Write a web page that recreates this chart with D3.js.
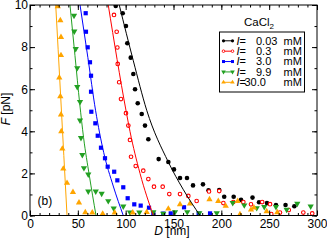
<!DOCTYPE html>
<html>
<head>
<meta charset="utf-8">
<script src="https://cdn.jsdelivr.net/npm/d3@7"></script>
<style>
  body { margin: 0; background: #fff; }
  svg { display: block; font-family: "Liberation Sans", Arial, sans-serif; }
</style>
</head>
<body>
<svg id="chart" width="327" height="242"></svg>
<script>
// axis ticks
var xTicks = [0, 50, 100, 150, 200, 250, 300];
var xMinor = d3.range(0, 301, 10);
var yTicks = [0, 2, 4, 6, 8, 10];
var yMinor = d3.range(0, 11, 1);

// I = 0.03 mM (black)
var blackD = [89.6, 96.9, 100.3, 101.7, 105.3, 108.0, 109.8, 112.6, 116.8, 120.2, 123.7, 134.5, 144.6, 150.5, 156.8, 164.1, 170.4, 180.8, 186.6, 197.8, 203.0, 212.9, 220.6, 232.6, 239.4, 247.7, 257.1, 267.1, 276.3];
var blackF = [9.95, 9.61, 9.00, 8.18, 7.50, 6.72, 6.00, 5.33, 4.82, 4.27, 3.62, 2.68, 2.54, 2.19, 1.78, 1.78, 1.43, 1.48, 1.20, 1.21, 0.89, 0.89, 0.74, 0.85, 0.63, 0.59, 0.50, 0.50, 0.44];
var blackFitD = [93.3, 108, 122, 144.6, 160, 177.7];
var blackFitF = [10, 7.35, 5, 2.54, 1.25, 0];

// I = 0.3 mM (red)
var redD = [87.8, 90.6, 91.3, 91.7, 93.2, 95.1, 100.3, 102.8, 104.5, 105.6, 110.5, 118.4, 123.7, 129.6, 138.7, 145.6, 156.8, 165.5, 174.2, 187.1, 197.8, 202.1, 212.5, 223.0, 231.0, 242.7, 250.9, 252.2, 261.3, 270.5, 285.7, 295.0];
var redF = [9.53, 8.73, 7.98, 7.20, 6.33, 5.53, 4.86, 4.27, 3.59, 2.79, 2.35, 2.13, 1.73, 1.37, 1.37, 1.02, 1.02, 0.93, 0.69, 1.14, 1.16, 0.59, 0.64, 0.64, 0.53, 0.64, 0.54, 0.07, 0.14, 0.26, 0.14, 0.10];
var redFitD = [81.8, 100.3, 104.5, 115, 128.9];
var redFitF = [10, 5, 4, 2, 0];

// I = 3.0 mM (blue)
var blueD = [58.2, 58.5, 60.3, 62.7, 63.8, 63.8, 64.1, 68.3, 70.8, 74.2, 78.4, 81.2, 88.0, 91.3, 97.5, 102.1, 109.0, 115.7, 124.4, 128.9, 139.3, 147.1, 161.0, 176.3, 188.2];
var blueF = [9.61, 8.73, 7.99, 7.28, 6.64, 5.88, 4.93, 4.38, 3.79, 3.22, 2.72, 2.32, 2.08, 1.67, 1.34, 0.82, 0.53, 0.47, 0.37, 0.10, 0.09, 0.10, 0.39, 0.09, 0.10];
var blueFitD = [52.3, 60.5, 68.5, 77, 87, 97.5];
var blueFitF = [10, 7.5, 5, 3, 1.4, 0];

// I = 9.9 mM (green)
var greenD = [46.0, 46.3, 47.8, 49.4, 49.4, 52.3, 52.3, 53.3, 54.7, 56.4, 60.9, 60.9, 68.7, 74.9, 81.8, 87.5, 97.5, 104.5, 114.3, 128.9, 139.3, 151.6, 164.4, 177.0, 195.2, 211.9, 224.0, 237.0, 244.9, 257.1, 268.3, 279.4, 293.4];
var greenF = [9.48, 8.73, 7.90, 6.99, 6.09, 5.38, 4.50, 3.67, 2.86, 2.24, 1.94, 1.13, 1.13, 1.02, 0.67, 0.32, 0.42, 0.13, 0.13, 0.15, 0.07, 0.15, 0.15, 0.10, 0.10, 0.58, 0.47, 0.34, 0.39, 0.39, 0.26, 0.55, 0.42];
var greenFitD = [41.8, 47, 52, 56, 62, 69];
var greenFitF = [10, 7.6, 5.3, 3.7, 1.9, 0];

// I = 30.0 mM (orange)
var orangeD = [29.0, 31.7, 32.4, 32.4, 30.6, 31.7, 32.4, 32.7, 33.8, 34.8, 38.7, 44.9, 51.2, 57.8, 65.1, 76.0, 88.5, 107.4, 122.0, 144.6, 156.8, 167.2, 187.6, 196.8, 204.6, 217.1, 219.5, 231.0, 234.1, 247.4, 258.5];
var orangeF = [9.95, 9.29, 8.49, 7.63, 6.57, 5.68, 4.81, 4.01, 3.19, 2.24, 1.56, 1.13, 0.63, 0.17, 0.15, 0.10, 0.15, 0.15, 0.18, 0.34, 0.55, 0.58, 0.78, 0.70, 0.47, 0.70, 0.07, 0.29, 0.39, 0.21, 0.17];
var orangeFitD = [26.9, 29.4, 32, 38.7];
var orangeFitF = [10, 7.9, 5.7, 0];

var legendNames = ["0.03", "0.3", "3.0", "9.9", "30.0"];

var series = [
  { name: legendNames[0], d: blackD, f: blackF, fd: blackFitD, ff: blackFitF, color: "#000000", sym: "dot" },
  { name: legendNames[1], d: redD, f: redF, fd: redFitD, ff: redFitF, color: "#ff0000", sym: "ring" },
  { name: legendNames[2], d: blueD, f: blueF, fd: blueFitD, ff: blueFitF, color: "#0000ff", sym: "square" },
  { name: legendNames[3], d: greenD, f: greenF, fd: greenFitD, ff: greenFitF, color: "#22a022", sym: "down" },
  { name: legendNames[4], d: orangeD, f: orangeF, fd: orangeFitD, ff: orangeFitF, color: "#ffa500", sym: "up" }
];

function drawChart() {
  var svg = d3.select("#chart");
  var plotLeft = 30, plotRight = 317, plotTop = 5, plotBottom = 215.5;

  var x = d3.scaleLinear().domain([0, 300]).range([plotLeft, plotRight]);
  var y = d3.scaleLinear().domain([0, 10]).range([plotBottom, plotTop]);

  svg.append("defs").append("clipPath").attr("id", "plotclip")
    .append("rect")
    .attr("x", plotLeft).attr("y", plotTop)
    .attr("width", plotRight - plotLeft).attr("height", plotBottom - plotTop);

  var plot = svg.append("g").attr("clip-path", "url(#plotclip)");

  function drawMarker(g, sym, color, px, py) {
    if (sym === "dot") {
      g.append("circle").attr("cx", px).attr("cy", py).attr("r", 2.3).attr("fill", color);
    } else if (sym === "ring") {
      g.append("circle").attr("cx", px).attr("cy", py).attr("r", 1.8)
        .attr("fill", "#fff").attr("stroke", color).attr("stroke-width", 1.1);
    } else if (sym === "square") {
      g.append("rect").attr("x", px - 2.1).attr("y", py - 2.1).attr("width", 4.2).attr("height", 4.2).attr("fill", color);
    } else {
      var rot = sym === "down" ? 180 : 0;
      g.append("path")
        .attr("d", d3.symbol().type(d3.symbolTriangle).size(17)())
        .attr("transform", "translate(" + px + "," + (py + (sym === "down" ? -0.4 : 0.4)) + ") rotate(" + rot + ")")
        .attr("fill", color);
    }
  }

  var line = d3.line()
    .x(function (p) { return x(p[0]); })
    .y(function (p) { return y(p[1]); })
    .curve(d3.curveMonotoneX);

  // markers first, fits on top
  series.forEach(function (s) {
    var g = plot.append("g");
    s.d.forEach(function (dv, i) {
      drawMarker(g, s.sym, s.color, x(dv), y(s.f[i]));
    });
  });

  series.forEach(function (s) {
    plot.append("path")
      .datum(d3.zip(s.fd, s.ff))
      .attr("d", line)
      .attr("fill", "none")
      .attr("stroke", s.color)
      .attr("stroke-width", 1);
  });

  // axes, ticks pointing inward
  function styleAxis(g) {
    g.select(".domain").remove();
    g.selectAll("line").attr("stroke", "#000").attr("stroke-width", 1);
    g.selectAll("text").attr("font-size", 12).attr("fill", "#000")
      .attr("font-family", "Liberation Sans, Arial, sans-serif");
  }

  svg.append("g").attr("transform", "translate(0," + plotBottom + ")")
    .call(d3.axisBottom(x).tickValues(xMinor).tickSize(-2.5).tickFormat(""))
    .call(styleAxis);
  svg.append("g").attr("transform", "translate(0," + plotBottom + ")")
    .call(d3.axisBottom(x).tickValues(xTicks).tickSize(-5).tickPadding(3.5).tickFormat(d3.format("d")))
    .call(styleAxis);
  svg.append("g").attr("transform", "translate(0," + plotTop + ")")
    .call(d3.axisTop(x).tickValues(xMinor).tickSize(-2.5).tickFormat(""))
    .call(styleAxis);
  svg.append("g").attr("transform", "translate(0," + plotTop + ")")
    .call(d3.axisTop(x).tickValues(xTicks).tickSize(-5).tickFormat(""))
    .call(styleAxis);

  svg.append("g").attr("transform", "translate(" + plotLeft + ",0)")
    .call(d3.axisLeft(y).tickValues(yMinor).tickSize(-2.5).tickFormat(""))
    .call(styleAxis);
  svg.append("g").attr("transform", "translate(" + plotLeft + ",0)")
    .call(d3.axisLeft(y).tickValues(yTicks).tickSize(-5).tickPadding(2).tickFormat(d3.format("d")))
    .call(styleAxis);
  svg.append("g").attr("transform", "translate(" + plotRight + ",0)")
    .call(d3.axisRight(y).tickValues(yMinor).tickSize(-2.5).tickFormat(""))
    .call(styleAxis);
  svg.append("g").attr("transform", "translate(" + plotRight + ",0)")
    .call(d3.axisRight(y).tickValues(yTicks).tickSize(-5).tickFormat(""))
    .call(styleAxis);

  // frame
  svg.append("rect")
    .attr("x", plotLeft).attr("y", plotTop)
    .attr("width", plotRight - plotLeft).attr("height", plotBottom - plotTop)
    .attr("fill", "none").attr("stroke", "#000").attr("stroke-width", 1);

  // axis titles
  var xt = svg.append("text").attr("x", 172).attr("y", 235)
    .attr("text-anchor", "middle").attr("font-size", 12);
  xt.append("tspan").attr("font-style", "italic").text("D");
  xt.append("tspan").text(" [nm]");

  var yt = svg.append("text")
    .attr("transform", "translate(10,109) rotate(-90)")
    .attr("text-anchor", "middle").attr("font-size", 12);
  yt.append("tspan").attr("font-style", "italic").text("F");
  yt.append("tspan").text(" [pN]");

  svg.append("text").attr("x", 37.5).attr("y", 205).attr("font-size", 12).text("(b)");

  // legend
  var title = svg.append("text").attr("x", 259).attr("y", 25.5)
    .attr("text-anchor", "middle").attr("font-size", 11.5);
  title.append("tspan").text("CaCl");
  title.append("tspan").attr("font-size", 8).attr("dy", 3).text("2");

  svg.append("rect")
    .attr("x", 219.5).attr("y", 32)
    .attr("width", 85).attr("height", 60)
    .attr("fill", "#fff").attr("stroke", "#000").attr("stroke-width", 1);

  var rowY = d3.scaleLinear().domain([0, 4]).range([40.8, 82.3]);
  series.forEach(function (s, i) {
    var ry = rowY(i);
    var lg = svg.append("g");
    lg.append("line").attr("x1", 223.5).attr("x2", 232.5).attr("y1", ry).attr("y2", ry)
      .attr("stroke", s.color).attr("stroke-width", 1);
    [223.5, 232.5].forEach(function (cx) {
      if (s.sym === "dot") {
        lg.append("circle").attr("cx", cx).attr("cy", ry).attr("r", 1.6).attr("fill", s.color);
      } else if (s.sym === "ring") {
        lg.append("circle").attr("cx", cx).attr("cy", ry).attr("r", 1.3)
          .attr("fill", "#fff").attr("stroke", s.color).attr("stroke-width", 0.9);
      } else if (s.sym === "square") {
        lg.append("rect").attr("x", cx - 1.5).attr("y", ry - 1.5).attr("width", 3).attr("height", 3).attr("fill", s.color);
      } else {
        lg.append("path")
          .attr("d", d3.symbol().type(d3.symbolTriangle).size(9)())
          .attr("transform", "translate(" + cx + "," + ry + ") rotate(" + (s.sym === "down" ? 180 : 0) + ")")
          .attr("fill", s.color);
      }
    });
    var t = lg.append("text").attr("x", 236.5).attr("y", ry + 3.9).attr("font-size", 11);
    t.append("tspan").attr("font-style", "italic").text("I");
    t.append("tspan").text("=");
    lg.append("text").attr("x", s.name === "30.0" ? 244.5 : 256)
      .attr("y", ry + 3.9).attr("font-size", 11).text(s.name);
    lg.append("text").attr("x", 283.5).attr("y", ry + 3.9).attr("font-size", 11).text("mM");
  });
}

drawChart();
</script>
</body>
</html>
